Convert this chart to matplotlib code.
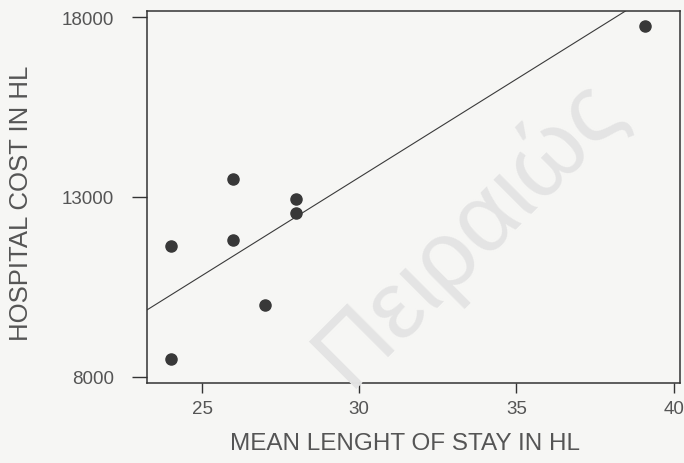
import matplotlib
matplotlib.use("Agg")
import matplotlib.pyplot as plt
import numpy as np

plt.rcParams['font.family'] = ['Liberation Sans', 'DejaVu Sans']

# Data
length_of_stay = [24, 24, 26, 26, 27, 28, 28, 39.1]
hospital_cost = [11650, 8500, 13500, 11800, 10000, 12950, 12550, 17750]
fit_intercept = -2833.0
fit_slope = 546.0
x_ticks = [25, 30, 35, 40]
y_ticks = [8000, 13000, 18000]

bg = '#f6f6f4'
fig = plt.figure(figsize=(6.84, 4.64), dpi=100, facecolor=bg)
ax = fig.add_axes([147/684, 1-384/464, 533/684, 372/464], facecolor=bg)

ax.set_xlim(23.25, 40.2)
ax.set_ylim(7830, 18170)

ax.plot(length_of_stay, hospital_cost, 'o', color='#383838', markersize=8, zorder=3)
ax.axline((0, fit_intercept), slope=fit_slope, color='#3a3a3a', linewidth=0.8, zorder=2)

ax.set_xticks(x_ticks)
ax.set_yticks(y_ticks)
ax.tick_params(axis='y', direction='out', length=11, width=1.0, color='#333333',
               labelsize=13.5, labelcolor='#555555', pad=13)
ax.tick_params(axis='x', direction='out', length=7, width=1.0, color='#333333',
               labelsize=13.5, labelcolor='#555555', pad=5)
for s in ax.spines.values():
    s.set_color('#333333')
    s.set_linewidth(1.1)

ax.set_xlabel('MEAN LENGHT OF STAY IN HL', fontsize=17.5, color='#555555', va='center')
ax.xaxis.set_label_coords((405-147)/533, (384-444)/372)
ax.set_ylabel('HOSPITAL COST IN HL', fontsize=18.5, color='#555555', va='center')
ax.yaxis.set_label_coords((21-147)/533, (384-203)/372)

fig.text(468/684, 1-232/464, 'Πειραιώς', fontsize=70, color='#e4e4e4',
         rotation=45, ha='center', va='center', zorder=0)

fig.savefig('out.png', dpi=100, facecolor=bg)
